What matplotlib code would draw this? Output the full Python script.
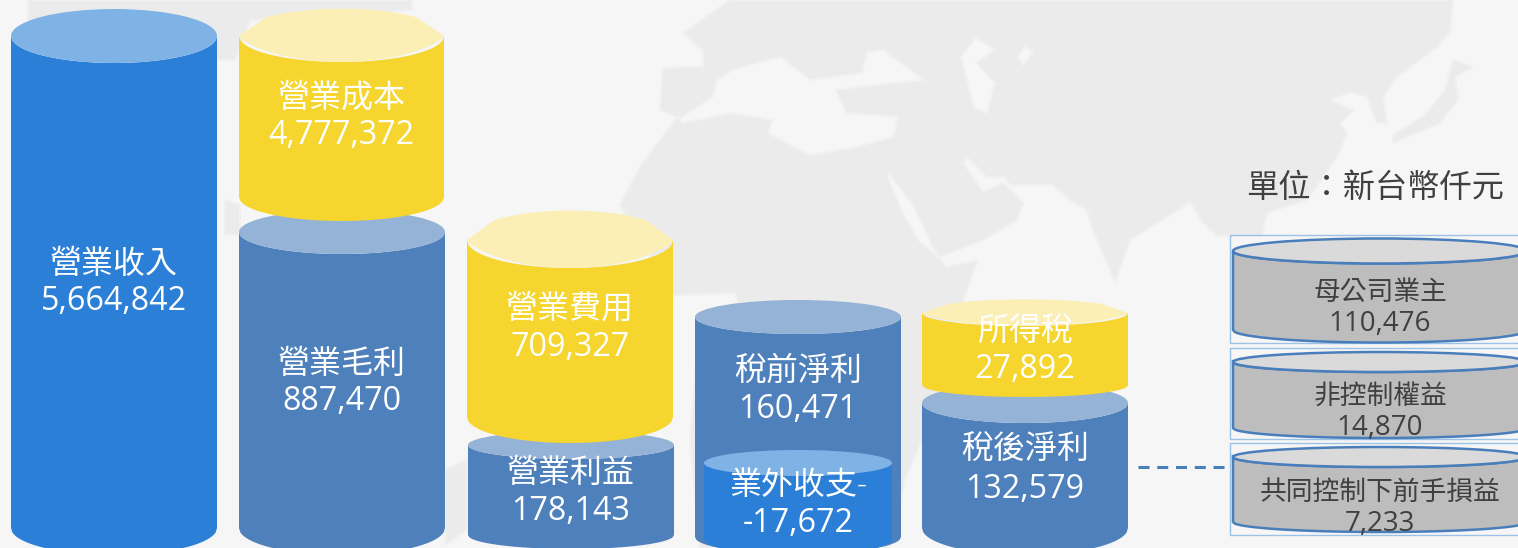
import matplotlib
matplotlib.use("Agg")
import matplotlib.pyplot as plt
from matplotlib.patches import Polygon, Rectangle, Ellipse
import numpy as np

# main cylinders, back to front
names = ["營業收入", "營業毛利", "營業成本", "營業利益", "營業費用", "稅前淨利", "業外收支-", "稅後淨利", "所得稅"]
values = [5664842, 887470, 4777372, 178143, 709327, 160471, -17672, 132579, 27892]
# equity split on the right
split_names = ["母公司業主", "非控制權益", "共同控制下前手損益"]
split_values = [110476, 14870, 7233]
unit_label = "單位：新台幣仟元"

W, H = 1518, 548
BLUE, BLUE_CAP = "#2c7fd6", "#7fb3e6"
STEEL, STEEL_CAP = "#4e80bc", "#94b3d7"
YELLOW, YELLOW_CAP = "#f5d52e", "#fbefb5"
body_colors = [BLUE, STEEL, YELLOW, STEEL, YELLOW, STEEL, BLUE, STEEL, YELLOW]
cap_colors = [BLUE_CAP, STEEL_CAP, YELLOW_CAP, STEEL_CAP, YELLOW_CAP, STEEL_CAP, BLUE_CAP, STEEL_CAP, YELLOW_CAP]
# x0, x1, cap centre y, bottom centre y, top ry, bottom ry
geom = [(11, 217, 36, 528, 27, 27), (239, 445, 232, 528, 22, 27), (239, 444, 36, 197, 26, 24),
        (468, 674, 445, 535, 14, 14), (467, 673, 240, 417, 28, 26), (695, 901, 317, 537, 17, 17),
        (704, 892, 463, 540, 13, 14), (922, 1128, 403, 528, 20, 27), (922, 1128, 313, 385, 13, 12)]
chamfer = [False, False, True, False, True, False, False, False, True]
name_y = [265, 365, 99, 474, 310, 372, 486, 450, 332]
value_y = [302, 402, 136, 512, 348, 410, 523, 489, 370]

split_boxes = [(235, 343), (348, 439), (443, 535)]
split_geom = [(251, 330, 12.5), (362, 428, 10), (457, 522, 10)]
split_name_y = [293, 397, 493]
split_value_y = [324, 428, 524]

# backdrop map, rough outlines traced by eye
land = [
    [(730, 0), (1453, 0), (1450, 33), (1437, 47), (1397, 77), (1383, 97), (1387, 123), (1377, 123), (1367, 97),
     (1350, 92), (1330, 100), (1353, 110), (1340, 123), (1347, 133), (1337, 157), (1307, 200), (1267, 213),
     (1262, 236), (1217, 236), (1203, 223), (1190, 202), (1170, 215), (1130, 240), (1115, 282), (1093, 230),
     (1087, 210), (1070, 200), (1053, 185), (1010, 185), (1005, 177), (987, 177), (967, 157), (963, 163),
     (983, 192), (1003, 183), (1023, 203), (1017, 220), (983, 240), (940, 257), (933, 247), (913, 205),
     (888, 172), (888, 178), (903, 213), (918, 240), (938, 257), (947, 267), (978, 260), (963, 300), (950, 340),
     (930, 420), (905, 480), (890, 548), (700, 548), (690, 440), (700, 320), (740, 310), (735, 293), (673, 295),
     (640, 240), (620, 205), (640, 167), (660, 140), (677, 117), (660, 110), (663, 68), (703, 67), (703, 50),
     (683, 33)],
    [(1453, 60), (1473, 67), (1455, 77), (1458, 100), (1440, 123), (1393, 143), (1393, 135), (1425, 115), (1445, 90)],
    [(28, 0), (412, 0), (412, 10), (250, 20), (235, 60), (220, 60), (28, 20)],
    [(225, 200), (240, 205), (240, 235), (225, 235)],
    [(445, 470), (467, 460), (467, 530), (445, 545)],
]
seas = [
    [(677, 117), (680, 118), (713, 97), (717, 80), (733, 70), (757, 63), (781, 57), (810, 80), (862, 73), (867, 53),
     (883, 50), (924, 80), (856, 87), (836, 90), (846, 113), (898, 117), (893, 137), (856, 147), (810, 155),
     (768, 133), (773, 120), (731, 113), (683, 123)],
    [(961, 57), (976, 38), (995, 50), (976, 63), (995, 83), (987, 113), (974, 107), (969, 87)],
    [(1018, 57), (1026, 45), (1033, 53), (1023, 65)],
]

plt.rcParams["font.family"] = ["Open Sans", "Noto Sans CJK TC", "DejaVu Sans"]

fig = plt.figure(figsize=(W / 100, H / 100), dpi=100)
ax = fig.add_axes([0, 0, 1, 1])
ax.set_xlim(0, W)
ax.set_ylim(H, 0)
ax.axis("off")

ax.add_patch(Rectangle((0, 0), W, H, fc="#f6f6f6", ec="none", zorder=0))
for poly in land:
    ax.add_patch(Polygon(poly, closed=True, fc="#ebebeb", ec="#f0f0f0", lw=1.5, zorder=1))
for poly in seas:
    ax.add_patch(Polygon(poly, closed=True, fc="#f6f6f6", ec="#f1f1f1", lw=1.5, zorder=1))


def cylinder(x0, x1, top, bottom, ry_top, ry_bot, body, cap, cut=False, z=2):
    xc, rx = (x0 + x1) / 2, (x1 - x0) / 2
    t = np.linspace(-1, 1, 160)
    upper = top + ry_top * np.sqrt(1 - t ** 2)
    lower = bottom + ry_bot * np.sqrt(1 - t ** 2)
    pts = np.r_[np.c_[xc + rx * t, upper], np.c_[xc + rx * t[::-1], lower[::-1]]]
    ax.add_patch(Polygon(pts, closed=True, fc=body, ec="none", zorder=z))
    if cut:
        # the pale lid has cut corners and leaves a sliver over the body
        lid_low = top + ry_top * (1 - t ** 2) ** 0.72
        lid_up = np.maximum(top - 1.05 * ry_top * np.sqrt(1 - t ** 2), top - 0.73 * ry_top * (1 - np.abs(t)) / 0.27)
        lid = np.r_[np.c_[xc + rx * t, lid_low], np.c_[xc + rx * t[::-1], lid_up[::-1]]]
        ax.add_patch(Polygon(lid, closed=True, fc=cap, ec="none", zorder=z))
    else:
        ax.add_patch(Ellipse((xc, top), 2 * rx, 2 * ry_top, fc=cap, ec="none", zorder=z))


for i in range(len(names)):
    x0, x1, top, bottom, ry_t, ry_b = geom[i]
    cylinder(x0, x1, top, bottom, ry_t, ry_b, body_colors[i], cap_colors[i], chamfer[i], z=2 + i)
    xc = (x0 + x1) / 2
    ax.text(xc, name_y[i], names[i], color="white", fontsize=23, weight="light", ha="center", va="center", zorder=20)
    ax.text(xc, value_y[i], f"{values[i]:,}", color="white", fontsize=23.2, ha="center", va="center", zorder=20)

EDGE = "#4a7ebb"
xa, xb = 1233, 1527
for i in range(3):
    y0, y1 = split_boxes[i]
    ax.add_patch(Rectangle((1230, y0), 300, y1 - y0, fc="none", ec="#9cc2e5", lw=1, zorder=11))
    top, bottom, ry = split_geom[i]
    xc, rx = (xa + xb) / 2, (xb - xa) / 2
    t = np.linspace(-1, 1, 160)
    pts = np.r_[np.c_[xc + rx * t, top + ry * np.sqrt(1 - t ** 2)],
                np.c_[xc + rx * t[::-1], bottom + ry * np.sqrt(1 - t[::-1] ** 2)]]
    ax.add_patch(Polygon(pts, closed=True, fc="#bdbdbd", ec=EDGE, lw=1.8, zorder=12))
    ax.add_patch(Ellipse((xc, top), 2 * rx, 2 * ry, fc="#dadada", ec=EDGE, lw=1.8, zorder=12))
    ax.text(1380, split_name_y[i], split_names[i], color="#404040", fontsize=19.3, weight="light",
            ha="center", va="center", zorder=20)
    ax.text(1380, split_value_y[i], f"{split_values[i]:,}", color="#404040", fontsize=20,
            ha="center", va="center", zorder=20)

ax.plot([1138, 1224], [467, 467], color=EDGE, lw=2.2, dashes=(3.6, 2.54), dash_capstyle="butt", zorder=12)
ax.text(1375, 189, unit_label, color="#404040", fontsize=23.2, weight="light", ha="center", va="center", zorder=20)

fig.savefig("out.png", dpi=100)
